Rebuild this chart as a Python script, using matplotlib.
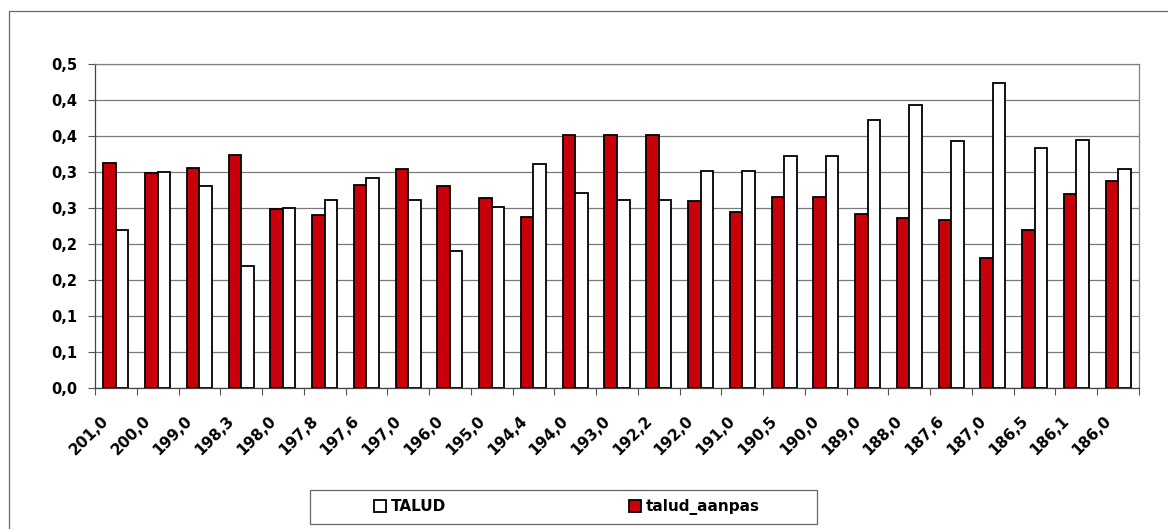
import numpy as np
import matplotlib
matplotlib.use("Agg")
import matplotlib.pyplot as plt
from matplotlib.patches import Rectangle

# chainage categories (x axis)
categories = ["201,0", "200,0", "199,0", "198,3", "198,0", "197,8", "197,6", "197,0",
              "196,0", "195,0", "194,4", "194,0", "193,0", "192,2", "192,0", "191,0",
              "190,5", "190,0", "189,0", "188,0", "187,6", "187,0", "186,5", "186,1",
              "186,0"]

talud_aanpas = [0.312, 0.299, 0.306, 0.324, 0.248, 0.240, 0.282, 0.304,
                0.281, 0.264, 0.237, 0.351, 0.351, 0.351, 0.260, 0.244,
                0.265, 0.265, 0.242, 0.236, 0.233, 0.181, 0.219, 0.269,
                0.288]

talud = [0.219, 0.300, 0.281, 0.170, 0.250, 0.261, 0.291, 0.261,
         0.190, 0.251, 0.311, 0.271, 0.261, 0.261, 0.301, 0.301,
         0.322, 0.322, 0.372, 0.393, 0.343, 0.423, 0.333, 0.344,
         0.304]

y_ticks = [0.0, 0.05, 0.10, 0.15, 0.20, 0.25, 0.30, 0.35, 0.40, 0.45]
y_tick_labels = ["0,0", "0,1", "0,1", "0,2", "0,2", "0,3", "0,3", "0,4", "0,4", "0,5"]

RED = "#C8000A"
W, H = 1168, 529

fig = plt.figure(figsize=(W / 100, H / 100), dpi=100)
# outer chart border (runs off the right and bottom edge)
fig.patches.append(Rectangle((9 / W, -0.1), 1.2, 1 - 11 / H + 0.1,
                             transform=fig.transFigure, fill=False,
                             edgecolor="#666666", linewidth=0.9))

ax = fig.add_axes([95 / W, 1 - 388 / H, 1044 / W, 324 / H])

x = np.arange(len(categories))
w = 0.3
ax.bar(x - w / 2, talud_aanpas, width=w, color=RED, edgecolor="black",
       linewidth=1.3, label="talud_aanpas", zorder=3)
ax.bar(x + w / 2, talud, width=w, color="white", edgecolor="black",
       linewidth=1.3, label="TALUD", zorder=3)

ax.set_xlim(-0.5, len(categories) - 0.5)
ax.set_ylim(0, 0.45)

ax.set_yticks(y_ticks)
ax.set_yticklabels(y_tick_labels, fontsize=10.5, fontweight="heavy")
ax.yaxis.grid(True, color="#7a7a7a", linewidth=0.9, zorder=0)
ax.tick_params(axis="y", direction="out", length=5, width=0.8, color="#555555", pad=8)

# label anchors sit a little left of each category centre, as in the original
ax.set_xticks(x - 0.35)
ax.set_xticklabels(categories, rotation=45, ha="right", rotation_mode="anchor",
                   fontsize=11, fontweight="heavy")
ax.set_xticks(np.arange(len(categories) + 1) - 0.5, minor=True)
ax.tick_params(axis="x", which="major", length=0, pad=18)
ax.tick_params(axis="x", which="minor", direction="out", length=5, width=0.8, color="#555555")

for side in ["top", "right"]:
    ax.spines[side].set_color("#808080")
    ax.spines[side].set_linewidth(0.9)
for side in ["left", "bottom"]:
    ax.spines[side].set_color("#444444")
    ax.spines[side].set_linewidth(0.9)

# legend box drawn separately so entries can sit where the original has them
fig.patches.append(Rectangle((310 / W, 1 - 524 / H), 507 / W, 34 / H,
                             transform=fig.transFigure, fill=False,
                             edgecolor="#666666", linewidth=0.9))
handles, labels = ax.get_legend_handles_labels()
leg = fig.legend(handles[::-1], labels[::-1], loc="center left", ncol=2,
                 bbox_to_anchor=(366 / W, 1 - 507 / H), frameon=False,
                 prop={"weight": "heavy", "size": 11}, handlelength=0.8,
                 handleheight=0.8, handletextpad=0.3, borderpad=0,
                 columnspacing=12.0)

plt.savefig("out.png", dpi=100)
plt.close()
